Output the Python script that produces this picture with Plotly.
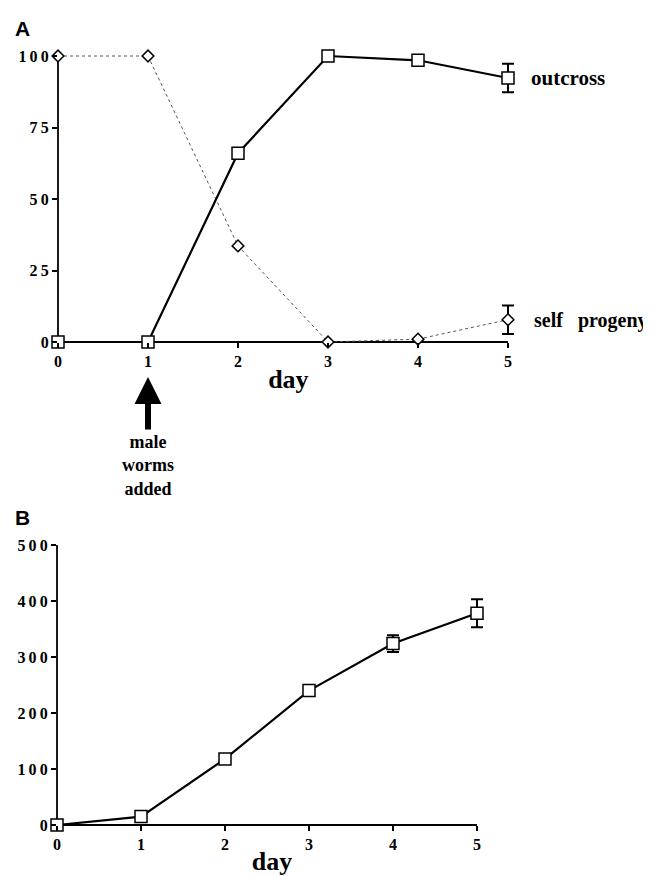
import plotly.graph_objects as go

# page body adds an 8px margin; size the figure to fill the remaining window
OFF = 8
W, H = 651 - OFF, 876 - OFF

days = [0, 1, 2, 3, 4, 5]
outcross = [0, 0, 66, 100, 98.5, 92.3]
outcross_err = [None, None, None, None, None, 5]
self_progeny = [100, 100, 33.6, 0, 1.0, 7.8]
self_err = [None, None, None, None, None, 5]

progeny_b = [0, 15, 118, 240, 324, 378]
progeny_b_err = [None, None, None, None, 15, 25]

y_ticks_a = [0, 25, 50, 75, 100]
y_ticks_b = [0, 100, 200, 300, 400, 500]

SERIF = "Liberation Serif"
SANS = "Liberation Sans"

# axis extents (data) and slight padding so edge error bars are not clipped
X_END = 5
X_MAX = 5.12
YA_END = 100
YA_MAX = 104
YB_END = 500
YB_MAX = 500

def px_x(p):
    return (p - OFF) / W

def px_y(p):
    return 1 - (p - OFF) / H

def spaced(v):
    return "\u2009".join(str(v))

# panel geometry in window pixels (axis start -> axis end)
A_X0, A_X1 = 58, 508
A_Y0, A_Y1 = 342, 56
B_X0, B_X1 = 57, 477
B_Y0, B_Y1 = 825, 545

a_xright = A_X0 + (A_X1 - A_X0) * X_MAX / X_END
a_ytop = A_Y0 - (A_Y0 - A_Y1) * YA_MAX / YA_END
b_xright = B_X0 + (B_X1 - B_X0) * X_MAX / X_END

fig = go.Figure()

# Panel A
fig.add_trace(go.Scatter(
    x=days, y=self_progeny, mode="lines+markers",
    line=dict(color="#555555", width=1, dash="dot"),
    marker=dict(symbol="diamond", size=9, color="white", line=dict(color="black", width=1.5)),
    error_y=dict(type="data", array=self_err, visible=True, color="black", thickness=2, width=6),
    xaxis="x", yaxis="y", cliponaxis=False, showlegend=False))
fig.add_trace(go.Scatter(
    x=days, y=outcross, mode="lines+markers",
    line=dict(color="black", width=2.2),
    marker=dict(symbol="square", size=12, color="white", line=dict(color="black", width=1.5)),
    error_y=dict(type="data", array=outcross_err, visible=True, color="black", thickness=2, width=6),
    xaxis="x", yaxis="y", cliponaxis=False, showlegend=False))

# Panel B
fig.add_trace(go.Scatter(
    x=days, y=progeny_b, mode="lines+markers",
    line=dict(color="black", width=2.2),
    marker=dict(symbol="square", size=12, color="white", line=dict(color="black", width=1.5)),
    error_y=dict(type="data", array=progeny_b_err, visible=True, color="black", thickness=2, width=6),
    xaxis="x2", yaxis="y2", cliponaxis=False, showlegend=False))

axis_common = dict(
    showgrid=False, zeroline=False, showline=False,
    ticks="outside", ticklen=5, tickwidth=1.5, tickcolor="black", automargin=False,
    tickfont=dict(family=SERIF, size=16, color="black", weight="bold"),
)
title_font = dict(family=SERIF, size=26, color="black", weight="bold")

fig.update_layout(
    width=W, height=H,
    margin=dict(l=0, r=0, t=0, b=0),
    paper_bgcolor="white", plot_bgcolor="white",
    xaxis=dict(domain=[px_x(A_X0), px_x(a_xright)], range=[0, X_MAX], anchor="y",
               tickvals=days, ticktext=[spaced(v) for v in days], **axis_common,
               title=dict(text="day", font=title_font, standoff=0)),
    yaxis=dict(domain=[px_y(A_Y0), px_y(a_ytop)], range=[0, YA_MAX], anchor="x",
               tickvals=y_ticks_a, ticktext=[spaced(v) for v in y_ticks_a], **axis_common),
    xaxis2=dict(domain=[px_x(B_X0), px_x(b_xright)], range=[0, X_MAX], anchor="y2",
                tickvals=days, ticktext=[spaced(v) for v in days], **axis_common,
                title=dict(text="day", font=title_font, standoff=0)),
    yaxis2=dict(domain=[px_y(B_Y0), px_y(B_Y1)], range=[0, YB_MAX], anchor="x2",
                tickvals=y_ticks_b, ticktext=[spaced(v) for v in y_ticks_b], **axis_common),
)

# axis lines, spanning only the labelled data extent
axis_line = dict(color="black", width=1.8)
for xr, yr, ymax, yend in [("x", "y", YA_MAX, YA_END), ("x2", "y2", YB_MAX, YB_END)]:
    fig.add_shape(type="line", xref=f"{xr} domain", yref=f"{yr} domain",
                  x0=0, x1=X_END / X_MAX, y0=0, y1=0, line=axis_line, layer="below")
    fig.add_shape(type="line", xref=f"{xr} domain", yref=f"{yr} domain",
                  x0=0, x1=0, y0=0, y1=yend / ymax, line=axis_line, layer="below")

fig.add_annotation(x=px_x(13), y=px_y(28), xref="paper", yref="paper", text="A",
                   showarrow=False, xanchor="left", yanchor="middle",
                   font=dict(family=SANS, size=21, color="black", weight="bold"))
fig.add_annotation(x=px_x(13), y=px_y(518), xref="paper", yref="paper", text="B",
                   showarrow=False, xanchor="left", yanchor="middle",
                   font=dict(family=SANS, size=21, color="black", weight="bold"))

fig.add_annotation(x=px_x(529), y=px_y(78), xref="paper", yref="paper", text="outcross",
                   showarrow=False, xanchor="left", yanchor="middle",
                   font=dict(family=SERIF, size=21, color="black", weight="bold"))
fig.add_annotation(x=px_x(532), y=px_y(320), xref="paper", yref="paper", text="self&nbsp;&nbsp;&nbsp;progeny",
                   showarrow=False, xanchor="left", yanchor="middle",
                   font=dict(family=SERIF, size=20, color="black", weight="bold"))

# arrow for male worms added
fig.add_annotation(x=1, y=px_y(377), xref="x", yref="paper",
                   ax=0, ay=54, axref="pixel", ayref="pixel",
                   text="", showarrow=True, arrowhead=2, arrowsize=0.9, arrowwidth=6, arrowcolor="black")
fig.add_annotation(x=1, y=px_y(465), xref="x", yref="paper",
                   text="male<br>worms<br>added", showarrow=False, xanchor="center", yanchor="middle",
                   font=dict(family=SERIF, size=18, color="black", weight="bold"))

fig.write_html("out.html")
